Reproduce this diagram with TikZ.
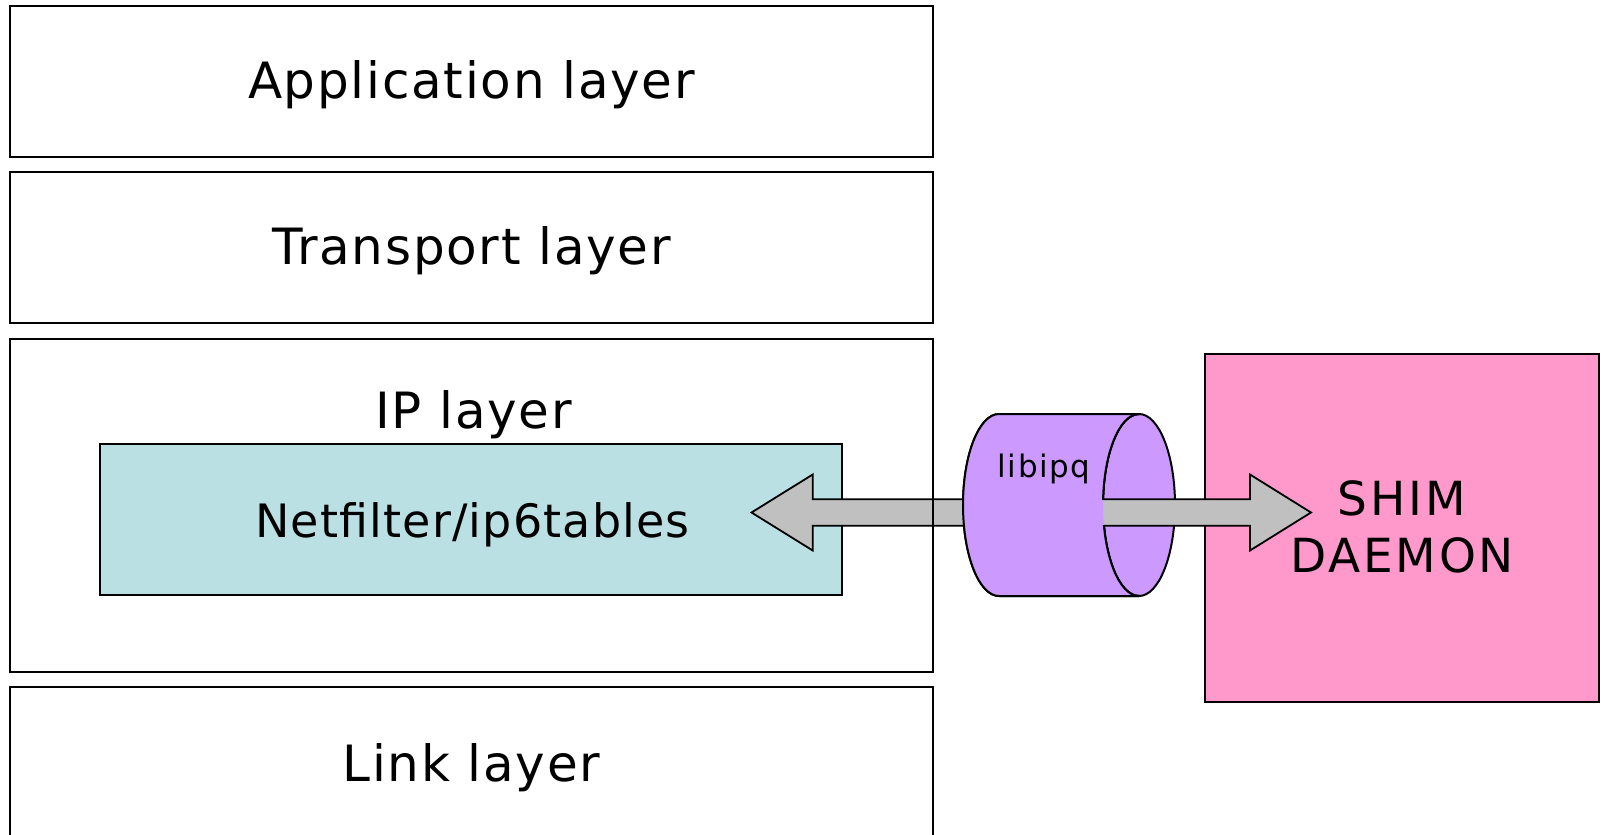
\documentclass[tikz,border=0pt]{standalone}
\usepackage{fontspec}
\setmainfont{DejaVu Sans}
\newfontfamily\labfont[LetterSpace=3.5]{DejaVu Sans}
\newfontfamily\netfont[LetterSpace=2.5]{DejaVu Sans}
\newfontfamily\shimfont[LetterSpace=6]{DejaVu Sans}
\newfontfamily\libfont[LetterSpace=5]{DejaVu Sans}
\definecolor{netcol}{HTML}{BBE0E3}
\definecolor{shimcol}{HTML}{FF99CC}
\definecolor{cylcol}{HTML}{CC99FF}
\definecolor{arrcol}{HTML}{C0C0C0}
\begin{document}
\begin{tikzpicture}[x=1pt,y=-1pt,line width=2pt,
  box/.style={rectangle,inner sep=0pt,outer sep=0pt},
  layerbox/.style={box,draw=black,fill=white},
  lbl/.style={inner sep=0pt,anchor=base,font={\labfont\fontsize{50}{58}\selectfont}}]
\useasboundingbox (0,0) rectangle (1606,835);
\clip (0,0) rectangle (1606,835);
\fill[white] (0,0) rectangle (1606,835);
% layers
\node[layerbox,minimum width=923pt,minimum height=150.7pt] (app) at (471.5,81.4) {};
\node[layerbox,minimum width=923pt,minimum height=151pt] (trans) at (471.5,247.5) {};
\node[box,fill=white,minimum width=923pt,minimum height=332.7pt] (ip) at (471.5,505.3) {};
\node[layerbox,minimum width=923pt,minimum height=163pt] (link) at (471.5,768.5) {};
% netfilter and shim
\node[box,draw=black,fill=netcol,minimum width=741.6pt,minimum height=150.5pt] (net) at (471.2,519.7) {};
\node[box,draw=black,fill=shimcol,minimum width=394pt,minimum height=347.7pt] (shim) at (1402,527.9) {};
% cylinder
\coordinate (cylL) at (999,505);
\coordinate (cylR) at (1139,505);
\filldraw[fill=cylcol,draw=black] (cylR) ellipse [x radius=36,y radius=91];
\filldraw[fill=cylcol,draw=black] (999,414) -- (1139,414)
  arc[start angle=270,end angle=90,x radius=36,y radius=91] -- (999,596)
  arc[start angle=90,end angle=270,x radius=36,y radius=91] -- cycle;
% double arrow
\coordinate (tipL) at (751.5,512.5);
\coordinate (tipR) at (1311,512.5);
\filldraw[fill=arrcol,draw=black,line width=1.8pt] (tipL) -- (812.7,474.5) -- (812.7,499.3) -- (1250,499.3)
  -- (1250,474.5) -- (tipR) -- (1250,550.5) -- (1250,525.7) -- (812.7,525.7) -- (812.7,550.5) -- cycle;
% cylinder front body over the arrow
\fill[cylcol] (999,414) -- (1139,414)
  arc[start angle=270,end angle=90,x radius=36,y radius=91] -- (999,596)
  arc[start angle=90,end angle=270,x radius=36,y radius=91] -- cycle;
\draw (1139,414) -- (999,414) arc[start angle=270,end angle=90,x radius=36,y radius=91] -- (1139,596);
\begin{scope}
  \clip (1080,400) rectangle (1200,499.3);
  \draw (1139,414) arc[start angle=270,end angle=90,x radius=36,y radius=91];
\end{scope}
\begin{scope}
  \clip (1080,525.7) rectangle (1200,610);
  \draw (1139,414) arc[start angle=270,end angle=90,x radius=36,y radius=91];
\end{scope}
% IP layer border on top
\draw (ip.north west) rectangle (ip.south east);
% labels
\node[lbl] (applbl) at (471.5,98.5) {Application layer};
\node[lbl] (translbl) at (471.5,264.5) {Transport layer};
\node[lbl] (iplbl) at (473.5,428) {IP layer};
\node[lbl] (linklbl) at (471.5,781) {Link layer};
\node[inner sep=0pt,anchor=base,font={\netfont\fontsize{46}{54}\selectfont}] (netlbl) at (472.5,537) {Netfilter/ip6tables};
\node[inner sep=0pt,anchor=base,font={\libfont\fontsize{31}{36}\selectfont}] (liblbl) at (1044,477) {libipq};
\node[inner sep=0pt,anchor=center,align=center,font={\shimfont\fontsize{47}{57}\selectfont}] (shimlbl) at (1402,527) {SHIM\\DAEMON};
\end{tikzpicture}
\end{document}
